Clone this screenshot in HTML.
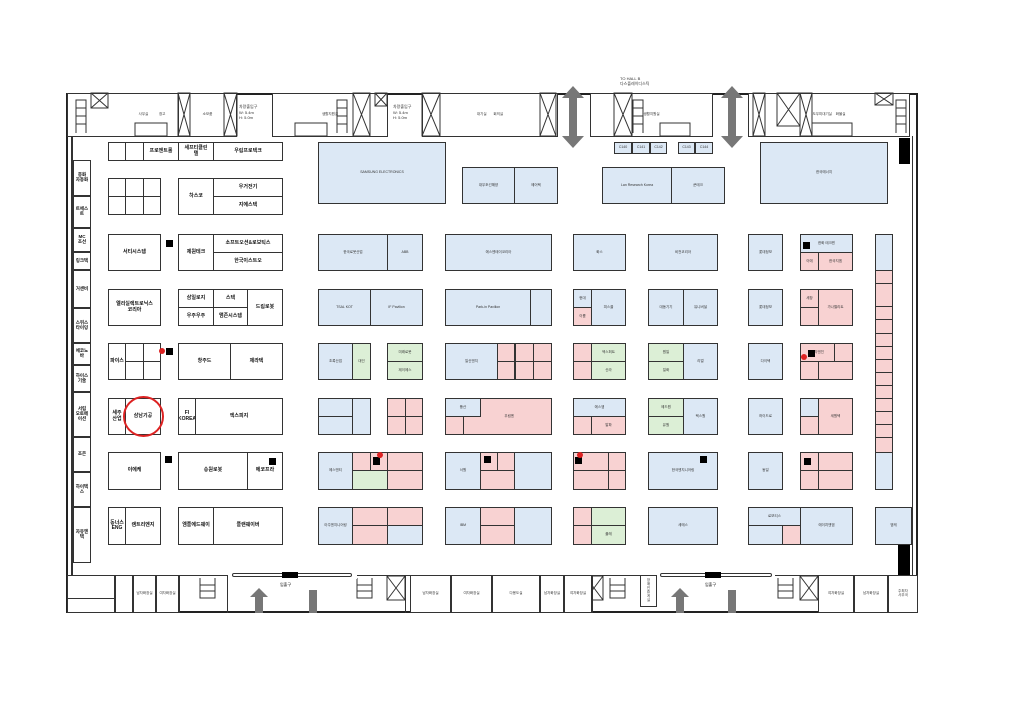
<!DOCTYPE html>
<html><head><meta charset="utf-8"><style>
body{margin:0;width:1020px;height:721px;background:#fff;position:relative;overflow:hidden;font-family:"Liberation Sans","Noto Sans CJK KR",sans-serif}
div{position:absolute;box-sizing:border-box}
.b{border:1.3px solid #333;background:#fff;font-size:5px;font-weight:bold;display:flex;align-items:center;justify-content:center;text-align:center;color:#111;line-height:1.1;overflow:hidden}
.s{font-size:3.5px;font-weight:normal;color:#333}
.u{background:#dce8f5}.p{background:#f8d2d2}.g{background:#dcefd6}
.k{background:#000;border:none}
.ln{background:#333}
.ar{background:#777}
</style></head><body>
<!-- outer walls -->
<div style="left:66px;top:93px;width:852px;height:520px;border:2px solid #222"></div>
<div class="ln" style="left:71px;top:136px;width:2px;height:440px"></div>
<div class="ln" style="left:912px;top:136px;width:1px;height:440px"></div>
<!-- top service strip -->
<div class="b s" style="left:67px;top:93px;width:170px;height:44px">사무실&nbsp;&nbsp;&nbsp;&nbsp;&nbsp;&nbsp;&nbsp;&nbsp;&nbsp;&nbsp;&nbsp;창고</div>
<div class="b s" style="left:178px;top:93px;width:59px;height:44px">소모품</div>
<div class="b s" style="left:272px;top:93px;width:116px;height:44px">생활지원실</div>
<div class="b s" style="left:422px;top:93px;width:136px;height:44px">대기실&nbsp;&nbsp;&nbsp;&nbsp;&nbsp;&nbsp;&nbsp;회의실</div>
<div class="b s" style="left:590px;top:93px;width:123px;height:44px">생활지원실</div>
<div class="b s" style="left:748px;top:93px;width:162px;height:44px">도우미대기실&nbsp;&nbsp;&nbsp;&nbsp;화물실</div>
<div style="left:239px;top:104px;font-size:4px;color:#333">차량출입구<br>W: 5.4m<br>H: 5.0m</div>
<div style="left:393px;top:104px;font-size:4px;color:#333">차량출입구<br>W: 5.4m<br>H: 5.0m</div>
<div style="left:620px;top:76px;font-size:4px;color:#333">TO HALL B<br>다스플레이디스틱</div>
<svg style="position:absolute;left:0;top:0" width="1020" height="721" fill="none" stroke="#333" stroke-width="1">
<g>
<rect x="91" y="93" width="17" height="15"/><path d="M91 93L108 108M108 93L91 108"/>
<rect x="178" y="93" width="12" height="43"/><path d="M178 93L190 136M190 93L178 136"/>
<rect x="224" y="93" width="13" height="43"/><path d="M224 93L237 136M237 93L224 136"/>
<rect x="353" y="93" width="17" height="43"/><path d="M353 93L370 136M370 93L353 136"/>
<rect x="375" y="93" width="12" height="13"/><path d="M375 93L387 106M387 93L375 106"/>
<rect x="422" y="93" width="18" height="43"/><path d="M422 93L440 136M440 93L422 136"/>
<rect x="540" y="93" width="16" height="43"/><path d="M540 93L556 136M556 93L540 136"/>
<rect x="614" y="93" width="18" height="43"/><path d="M614 93L632 136M632 93L614 136"/>
<rect x="753" y="93" width="12" height="43"/><path d="M753 93L765 136M765 93L753 136"/>
<rect x="777" y="93" width="23" height="33"/><path d="M777 93L800 126M800 93L777 126"/>
<rect x="800" y="93" width="12" height="43"/><path d="M800 93L812 136M812 93L800 136"/>
<rect x="875" y="93" width="18" height="12"/><path d="M875 93L893 105M893 93L875 105"/>
<path d="M76 133V100H86V133M76 108H86M76 116H86M76 124H86"/>
<path d="M337 133V100H347V133M337 108H347M337 116H347M337 124H347"/>
<path d="M633 133V100H643V133M633 108H643M633 116H643M633 124H643"/>
<path d="M896 133V100H906V133M896 108H906M896 116H906M896 124H906"/>
<rect x="135" y="123" width="32" height="13"/><rect x="295" y="123" width="32" height="13"/><rect x="660" y="123" width="30" height="13"/><rect x="812" y="123" width="40" height="13"/>
<rect x="387" y="576" width="18" height="24"/><path d="M387 576L405 600M405 576L387 600"/>
<rect x="585" y="576" width="18" height="24"/><path d="M585 576L603 600M603 576L585 600"/>
<rect x="800" y="576" width="18" height="24"/><path d="M800 576L818 600M818 576L800 600"/>
<path d="M200 578V598H215V578M200 585H215M200 591H215"/>
<path d="M357 578V598H372V578M357 585H372M357 591H372"/>
<path d="M610 578V598H625V578M610 585H625M610 591H625"/>
<path d="M778 578V598H793V578M778 585H793M778 591H793"/>
</g></svg>
<!-- double arrows -->
<svg style="position:absolute;left:562px;top:86px" width="22" height="62"><polygon points="11,0 22,12 15,12 15,50 22,50 11,62 0,50 7,50 7,12 0,12" fill="#777"/></svg>
<svg style="position:absolute;left:721px;top:86px" width="22" height="62"><polygon points="11,0 22,12 15,12 15,50 22,50 11,62 0,50 7,50 7,12 0,12" fill="#777"/></svg>
<div class="k" style="left:899px;top:138px;width:11px;height:26px"></div>
<div class="k" style="left:898px;top:545px;width:12px;height:30px"></div>
<!-- small C140.. -->
<div class="b s u" style="left:614px;top:142px;width:18px;height:12px">C140</div>
<div class="b s u" style="left:632px;top:142px;width:18px;height:12px">C141</div>
<div class="b s u" style="left:650px;top:142px;width:17px;height:12px">C142</div>
<div class="b s u" style="left:678px;top:142px;width:17px;height:12px">C143</div>
<div class="b s u" style="left:695px;top:142px;width:18px;height:12px">C144</div>
<!-- left vertical strip -->
<div class="b" style="left:73px;top:160px;width:18px;height:36px;font-size:4.5px">흥화<br>자동화</div>
<div class="b" style="left:73px;top:196px;width:18px;height:32px;font-size:4.5px">트에스트</div>
<div class="b" style="left:73px;top:228px;width:18px;height:24px;font-size:4.5px">MC<br>조선</div>
<div class="b" style="left:73px;top:252px;width:18px;height:18px;font-size:4.5px">링크텍</div>
<div class="b" style="left:73px;top:270px;width:18px;height:38px;font-size:4.5px">거센비</div>
<div class="b" style="left:73px;top:308px;width:18px;height:35px;font-size:4.5px">스위스<br>타이밍</div>
<div class="b" style="left:73px;top:343px;width:18px;height:22px;font-size:4.5px">에코노바</div>
<div class="b" style="left:73px;top:365px;width:18px;height:27px;font-size:4.5px">하이스<br>기술</div>
<div class="b" style="left:73px;top:392px;width:18px;height:45px;font-size:4.5px">서림<br>오토메이션</div>
<div class="b" style="left:73px;top:437px;width:18px;height:35px;font-size:4.5px">조은</div>
<div class="b" style="left:73px;top:472px;width:18px;height:35px;font-size:4.5px">하이텍스</div>
<div class="b" style="left:73px;top:507px;width:18px;height:56px;font-size:4.5px">자유엔텍</div>
<!-- left white booths -->
<div class="b" style="left:108px;top:142px;width:18px;height:19px"></div>
<div class="b" style="left:125px;top:142px;width:19px;height:19px"></div>
<div class="b" style="left:143px;top:142px;width:36px;height:19px">프로엔트롤</div>
<div class="b" style="left:178px;top:142px;width:36px;height:19px">세프티클린<br>텔</div>
<div class="b" style="left:213px;top:142px;width:70px;height:19px">우림프로텍크</div>

<div class="b" style="left:108px;top:178px;width:18px;height:19px"></div><div class="b" style="left:125px;top:178px;width:19px;height:19px"></div><div class="b" style="left:143px;top:178px;width:18px;height:19px"></div>
<div class="b" style="left:108px;top:196px;width:18px;height:19px"></div><div class="b" style="left:125px;top:196px;width:19px;height:19px"></div><div class="b" style="left:143px;top:196px;width:18px;height:19px"></div>
<div class="b" style="left:178px;top:178px;width:36px;height:37px">하스코</div>
<div class="b" style="left:213px;top:178px;width:70px;height:19px">우거전기</div>
<div class="b" style="left:213px;top:196px;width:70px;height:19px">지에스텍</div>

<div class="b" style="left:108px;top:234px;width:53px;height:37px">서티시스템</div>
<div class="k" style="left:166px;top:240px;width:7px;height:7px"></div>
<div class="b" style="left:178px;top:234px;width:36px;height:37px">제원테크</div>
<div class="b" style="left:213px;top:234px;width:70px;height:19px">소프트오션&amp;로보틱스</div>
<div class="b" style="left:213px;top:252px;width:70px;height:19px">한국이스트오</div>

<div class="b" style="left:108px;top:289px;width:53px;height:37px">엘리실렉트로닉스<br>코리아</div>
<div class="b" style="left:178px;top:289px;width:36px;height:19px">삼일로지</div>
<div class="b" style="left:178px;top:307px;width:36px;height:19px">우주우주</div>
<div class="b" style="left:213px;top:289px;width:35px;height:19px">스텍</div>
<div class="b" style="left:213px;top:307px;width:35px;height:19px">앰존시스템</div>
<div class="b" style="left:247px;top:289px;width:36px;height:37px">드림로봇</div>

<div class="b" style="left:108px;top:343px;width:18px;height:37px">파이스</div>
<div class="b" style="left:125px;top:343px;width:19px;height:19px"></div><div class="b" style="left:143px;top:343px;width:18px;height:19px"></div>
<div class="b" style="left:125px;top:361px;width:19px;height:19px"></div><div class="b" style="left:143px;top:361px;width:18px;height:19px"></div>
<div style="left:159px;top:348px;width:6px;height:6px;border-radius:50%;background:#d22"></div>
<div class="k" style="left:166px;top:348px;width:7px;height:7px"></div>
<div class="b" style="left:178px;top:343px;width:53px;height:37px">창주드</div>
<div class="b" style="left:230px;top:343px;width:53px;height:37px">제라텍</div>

<div class="b" style="left:108px;top:398px;width:18px;height:37px">세주<br>산업</div>
<div class="b" style="left:125px;top:398px;width:36px;height:37px">삼남기공</div>
<div style="left:123px;top:396px;width:41px;height:41px;border:2px solid #d22;border-radius:50%"></div>
<div class="b" style="left:178px;top:398px;width:18px;height:37px">FI<br>KOREA</div>
<div class="b" style="left:195px;top:398px;width:88px;height:37px">엑스피지</div>

<div class="b" style="left:108px;top:452px;width:53px;height:38px">이에케</div>
<div class="k" style="left:165px;top:456px;width:7px;height:7px"></div>
<div class="b" style="left:178px;top:452px;width:70px;height:38px">송원로봇</div>
<div class="b" style="left:247px;top:452px;width:36px;height:38px">에코프라</div>
<div class="k" style="left:269px;top:458px;width:7px;height:7px"></div>

<div class="b" style="left:108px;top:507px;width:18px;height:38px">동너스<br>ENG</div>
<div class="b" style="left:125px;top:507px;width:36px;height:38px">캠트리엔지</div>
<div class="b" style="left:178px;top:507px;width:36px;height:38px">엠플에드웨이</div>
<div class="b" style="left:213px;top:507px;width:70px;height:38px">플랜웨이버</div>

<!-- top blue big blocks -->
<div class="b s u" style="left:318px;top:142px;width:128px;height:62px">SAMSUNG ELECTRONICS</div>
<div class="b s u" style="left:462px;top:167px;width:53px;height:37px">대우조선해양</div>
<div class="b s u" style="left:514px;top:167px;width:44px;height:37px">에어텍</div>
<div class="b s u" style="left:602px;top:167px;width:70px;height:37px">Lan Research Korea</div>
<div class="b s u" style="left:671px;top:167px;width:54px;height:37px">쿤테크</div>
<div class="b s u" style="left:760px;top:142px;width:128px;height:62px">한국에너지</div>

<!-- Row1 234 -->
<div class="b s u" style="left:318px;top:234px;width:70px;height:37px">한국로봇산업</div>
<div class="b s u" style="left:387px;top:234px;width:36px;height:37px">ABB</div>
<div class="b s u" style="left:445px;top:234px;width:107px;height:37px">에스엔테이코리아</div>
<div class="b s u" style="left:573px;top:234px;width:53px;height:37px">화스</div>
<div class="b s u" style="left:648px;top:234px;width:70px;height:37px">비전코리아</div>
<div class="b s u" style="left:748px;top:234px;width:35px;height:37px">롯데정보</div>
<div class="b s u" style="left:800px;top:234px;width:53px;height:19px">한화 테크윈</div>
<div class="k" style="left:803px;top:242px;width:7px;height:7px"></div>
<div class="b s p" style="left:800px;top:252px;width:19px;height:19px">이에</div>
<div class="b s p" style="left:818px;top:252px;width:35px;height:19px">한국지엠</div>
<!-- Row2 289 -->
<div class="b s u" style="left:318px;top:289px;width:53px;height:37px">TSAL KOT</div>
<div class="b s u" style="left:370px;top:289px;width:53px;height:37px">IF Pavilion</div>
<div class="b s u" style="left:445px;top:289px;width:86px;height:37px">Park-in Pavilion</div>
<div class="b s u" style="left:530px;top:289px;width:22px;height:37px"></div>
<div class="b s u" style="left:573px;top:289px;width:19px;height:19px">현대</div>
<div class="b s p" style="left:573px;top:307px;width:19px;height:19px">이룸</div>
<div class="b s u" style="left:591px;top:289px;width:35px;height:37px">피스쿨</div>
<div class="b s u" style="left:648px;top:289px;width:36px;height:37px">대동기기</div>
<div class="b s u" style="left:683px;top:289px;width:35px;height:37px">유니버셜</div>
<div class="b s u" style="left:748px;top:289px;width:35px;height:37px">롯데정보</div>
<div class="b s p" style="left:800px;top:289px;width:19px;height:19px">세창</div>
<div class="b s p" style="left:800px;top:307px;width:19px;height:19px"></div>
<div class="b s p" style="left:818px;top:289px;width:35px;height:37px">가나엘리트</div>
<!-- Row3 343 -->
<div class="b s u" style="left:318px;top:343px;width:35px;height:37px">초록산업</div>
<div class="b s g" style="left:352px;top:343px;width:19px;height:37px">대인</div>
<div class="b s g" style="left:387px;top:343px;width:36px;height:19px">미래로봇</div>
<div class="b s g" style="left:387px;top:361px;width:36px;height:19px">제이에스</div>
<div class="b s u" style="left:445px;top:343px;width:53px;height:37px">일신엔지</div>
<div class="b s p" style="left:497px;top:343px;width:18px;height:19px"></div>
<div class="b s p" style="left:497px;top:361px;width:18px;height:19px"></div>
<div class="b s p" style="left:515px;top:343px;width:19px;height:19px"></div>
<div class="b s p" style="left:533px;top:343px;width:19px;height:19px"></div>
<div class="b s p" style="left:515px;top:361px;width:19px;height:19px"></div>
<div class="b s p" style="left:533px;top:361px;width:19px;height:19px"></div>
<div class="b s p" style="left:573px;top:343px;width:19px;height:19px"></div>
<div class="b s p" style="left:573px;top:361px;width:19px;height:19px"></div>
<div class="b s g" style="left:591px;top:343px;width:35px;height:19px">엑스퍼트</div>
<div class="b s g" style="left:591px;top:361px;width:35px;height:19px">신라</div>
<div class="b s g" style="left:648px;top:343px;width:36px;height:19px">원일</div>
<div class="b s g" style="left:648px;top:361px;width:36px;height:19px">일화</div>
<div class="b s u" style="left:683px;top:343px;width:35px;height:37px">리얼</div>
<div class="b s u" style="left:748px;top:343px;width:35px;height:37px">다이텍</div>
<div class="b s p" style="left:800px;top:343px;width:35px;height:19px">우리엔진</div>
<div class="b s p" style="left:834px;top:343px;width:19px;height:19px"></div>
<div class="b s p" style="left:800px;top:361px;width:19px;height:19px"></div>
<div class="b s p" style="left:818px;top:361px;width:35px;height:19px"></div>
<div class="k" style="left:808px;top:350px;width:7px;height:7px"></div>
<div style="left:801px;top:354px;width:6px;height:6px;border-radius:50%;background:#d22"></div>
<!-- Row4 398 -->
<div class="b s u" style="left:318px;top:398px;width:35px;height:19px"></div>
<div class="b s u" style="left:318px;top:416px;width:35px;height:19px"></div>
<div class="b s u" style="left:352px;top:398px;width:19px;height:37px"></div>
<div class="b s p" style="left:387px;top:398px;width:19px;height:19px"></div>
<div class="b s p" style="left:405px;top:398px;width:18px;height:19px"></div>
<div class="b s p" style="left:387px;top:416px;width:19px;height:19px"></div>
<div class="b s p" style="left:405px;top:416px;width:18px;height:19px"></div>
<div class="b s p" style="left:445px;top:398px;width:107px;height:37px">&nbsp;&nbsp;&nbsp;&nbsp;&nbsp;&nbsp;&nbsp;&nbsp;&nbsp;&nbsp;&nbsp;&nbsp;&nbsp;&nbsp;&nbsp;&nbsp;&nbsp;&nbsp;&nbsp;&nbsp;&nbsp;&nbsp;우림엔</div>
<div class="b s u" style="left:445px;top:398px;width:36px;height:19px">풍산</div>
<div class="b s p" style="left:445px;top:416px;width:19px;height:19px"></div>
<div class="b s u" style="left:573px;top:398px;width:53px;height:19px">에스엠</div>
<div class="b s p" style="left:573px;top:416px;width:19px;height:19px"></div>
<div class="b s p" style="left:591px;top:416px;width:35px;height:19px">알파</div>
<div class="b s g" style="left:648px;top:398px;width:36px;height:19px">에드원</div>
<div class="b s g" style="left:648px;top:416px;width:36px;height:19px">유원</div>
<div class="b s u" style="left:683px;top:398px;width:35px;height:37px">텍스원</div>
<div class="b s u" style="left:748px;top:398px;width:35px;height:37px">하이드로</div>
<div class="b s u" style="left:800px;top:398px;width:19px;height:19px"></div>
<div class="b s p" style="left:800px;top:416px;width:19px;height:19px"></div>
<div class="b s p" style="left:818px;top:398px;width:35px;height:37px">세원텍</div>
<!-- Row5 452 -->
<div class="b s u" style="left:318px;top:452px;width:35px;height:38px">에스앤티</div>
<div class="b s p" style="left:352px;top:452px;width:19px;height:19px"></div>
<div class="b s p" style="left:370px;top:452px;width:18px;height:19px"></div>
<div class="b s g" style="left:352px;top:470px;width:36px;height:20px"></div>
<div class="b s p" style="left:387px;top:452px;width:36px;height:19px"></div>
<div class="b s p" style="left:387px;top:470px;width:36px;height:20px"></div>
<div class="k" style="left:373px;top:457px;width:7px;height:8px"></div>
<div style="left:377px;top:452px;width:6px;height:6px;border-radius:50%;background:#d22"></div>
<div class="b s u" style="left:445px;top:452px;width:36px;height:38px">서원</div>
<div class="b s p" style="left:480px;top:452px;width:18px;height:19px"></div>
<div class="b s p" style="left:497px;top:452px;width:18px;height:19px"></div>
<div class="b s p" style="left:480px;top:470px;width:35px;height:20px"></div>
<div class="k" style="left:484px;top:456px;width:7px;height:7px"></div>
<div class="b s u" style="left:514px;top:452px;width:38px;height:38px"></div>
<div class="b s p" style="left:573px;top:452px;width:36px;height:19px"></div>
<div class="b s p" style="left:608px;top:452px;width:18px;height:19px"></div>
<div class="b s p" style="left:573px;top:470px;width:36px;height:20px"></div>
<div class="b s p" style="left:608px;top:470px;width:18px;height:20px"></div>
<div class="k" style="left:575px;top:457px;width:7px;height:7px"></div>
<div style="left:577px;top:452px;width:6px;height:6px;border-radius:50%;background:#d22"></div>
<div class="b s u" style="left:648px;top:452px;width:70px;height:38px">한국엔지니어링</div>
<div class="k" style="left:700px;top:456px;width:7px;height:7px"></div>
<div class="b s u" style="left:748px;top:452px;width:35px;height:38px">동일</div>
<div class="b s p" style="left:800px;top:452px;width:19px;height:19px"></div>
<div class="b s p" style="left:818px;top:452px;width:35px;height:19px"></div>
<div class="b s p" style="left:800px;top:470px;width:19px;height:20px"></div>
<div class="b s p" style="left:818px;top:470px;width:35px;height:20px"></div>
<div class="k" style="left:804px;top:458px;width:7px;height:7px"></div>
<!-- Row6 507 -->
<div class="b s u" style="left:318px;top:507px;width:35px;height:38px">아주엔지니어링</div>
<div class="b s p" style="left:352px;top:507px;width:36px;height:19px"></div>
<div class="b s p" style="left:352px;top:525px;width:36px;height:20px"></div>
<div class="b s p" style="left:387px;top:507px;width:36px;height:19px"></div>
<div class="b s u" style="left:387px;top:525px;width:36px;height:20px"></div>
<div class="b s u" style="left:445px;top:507px;width:36px;height:38px">IBM</div>
<div class="b s p" style="left:480px;top:507px;width:35px;height:19px"></div>
<div class="b s p" style="left:480px;top:525px;width:35px;height:20px"></div>
<div class="b s u" style="left:514px;top:507px;width:38px;height:38px"></div>
<div class="b s p" style="left:573px;top:507px;width:19px;height:19px"></div>
<div class="b s p" style="left:573px;top:525px;width:19px;height:20px"></div>
<div class="b s g" style="left:591px;top:507px;width:35px;height:19px"></div>
<div class="b s g" style="left:591px;top:525px;width:35px;height:20px">플래</div>
<div class="b s u" style="left:648px;top:507px;width:70px;height:38px">세메스</div>
<div class="b s u" style="left:748px;top:507px;width:53px;height:19px">로보티스</div>
<div class="b s u" style="left:748px;top:525px;width:35px;height:20px"></div>
<div class="b s p" style="left:782px;top:525px;width:19px;height:20px"></div>
<div class="b s u" style="left:800px;top:507px;width:53px;height:38px">에이치앤엠</div>
<div class="b s u" style="left:875px;top:507px;width:37px;height:38px">엠케</div>
<!-- right strip -->
<div class="b s u" style="left:875px;top:234px;width:18px;height:37px"></div>
<div class="b s p" style="left:875px;top:270px;width:18px;height:14px"></div>
<div class="b s p" style="left:875px;top:283px;width:18px;height:24px"></div>
<div class="b s p" style="left:875px;top:306px;width:18px;height:14px"></div>
<div class="b s p" style="left:875px;top:319px;width:18px;height:15px"></div>
<div class="b s p" style="left:875px;top:333px;width:18px;height:14px"></div>
<div class="b s p" style="left:875px;top:346px;width:18px;height:14px"></div>
<div class="b s p" style="left:875px;top:359px;width:18px;height:14px"></div>
<div class="b s p" style="left:875px;top:372px;width:18px;height:14px"></div>
<div class="b s p" style="left:875px;top:385px;width:18px;height:14px"></div>
<div class="b s p" style="left:875px;top:398px;width:18px;height:14px"></div>
<div class="b s p" style="left:875px;top:411px;width:18px;height:14px"></div>
<div class="b s p" style="left:875px;top:424px;width:18px;height:14px"></div>
<div class="b s p" style="left:875px;top:437px;width:18px;height:16px"></div>
<div class="b s u" style="left:875px;top:452px;width:18px;height:38px"></div>
<!-- bottom strip -->
<div style="left:67px;top:575px;width:851px;height:38px;border-top:1.3px solid #333"></div>
<div class="b s" style="left:67px;top:575px;width:48px;height:24px"></div>
<div class="b s" style="left:67px;top:598px;width:48px;height:15px"></div>
<div class="b s" style="left:115px;top:575px;width:18px;height:38px"></div>
<div class="b s" style="left:133px;top:575px;width:23px;height:38px">남자화장실</div>
<div class="b s" style="left:156px;top:575px;width:23px;height:38px">여자화장실</div>
<div class="b s" style="left:410px;top:575px;width:41px;height:38px">남자화장실</div>
<div class="b s" style="left:451px;top:575px;width:41px;height:38px">여자화장실</div>
<div class="b s" style="left:492px;top:575px;width:48px;height:38px">다용도실</div>
<div class="b s" style="left:540px;top:575px;width:24px;height:38px">남자화장실</div>
<div class="b s" style="left:564px;top:575px;width:28px;height:38px">여자화장실</div>
<div class="b s" style="left:640px;top:575px;width:17px;height:32px">장<br>애<br>인<br>휴<br>게<br>실</div>
<div class="b s" style="left:818px;top:575px;width:36px;height:38px">여자화장실</div>
<div class="b s" style="left:854px;top:575px;width:34px;height:38px">남자화장실</div>
<div class="b s" style="left:888px;top:575px;width:30px;height:38px">주최자<br>사무국</div>
<div class="ln" style="left:405px;top:575px;width:1px;height:38px"></div>
<div class="ln" style="left:818px;top:575px;width:1px;height:38px"></div>
<div class="ln" style="left:179px;top:575px;width:1px;height:38px"></div>
<div class="ln" style="left:227px;top:575px;width:1px;height:38px"></div>
<div class="ln" style="left:592px;top:575px;width:1px;height:38px"></div>
<!-- entrance chains -->
<div style="left:228px;top:571px;width:129px;height:8px;background:#fff"></div>
<div style="left:232px;top:573px;width:120px;height:4px;border:1px solid #333;border-radius:3px"></div>
<div class="k" style="left:282px;top:572px;width:16px;height:6px"></div>
<div style="left:280px;top:582px;font-size:4px">입출구</div>
<div style="left:657px;top:571px;width:118px;height:8px;background:#fff"></div>
<div style="left:660px;top:573px;width:112px;height:4px;border:1px solid #333;border-radius:3px"></div>
<div class="k" style="left:705px;top:572px;width:16px;height:6px"></div>
<div style="left:705px;top:582px;font-size:4px">입출구</div>
<svg style="position:absolute;left:250px;top:588px" width="18" height="25"><polygon points="9,0 18,9 13,9 13,25 5,25 5,9 0,9" fill="#777"/></svg>
<div class="ar" style="left:309px;top:590px;width:8px;height:23px"></div>
<svg style="position:absolute;left:671px;top:588px" width="18" height="25"><polygon points="9,0 18,9 13,9 13,25 5,25 5,9 0,9" fill="#777"/></svg>
<div class="ar" style="left:728px;top:590px;width:8px;height:23px"></div>
</body></html>
